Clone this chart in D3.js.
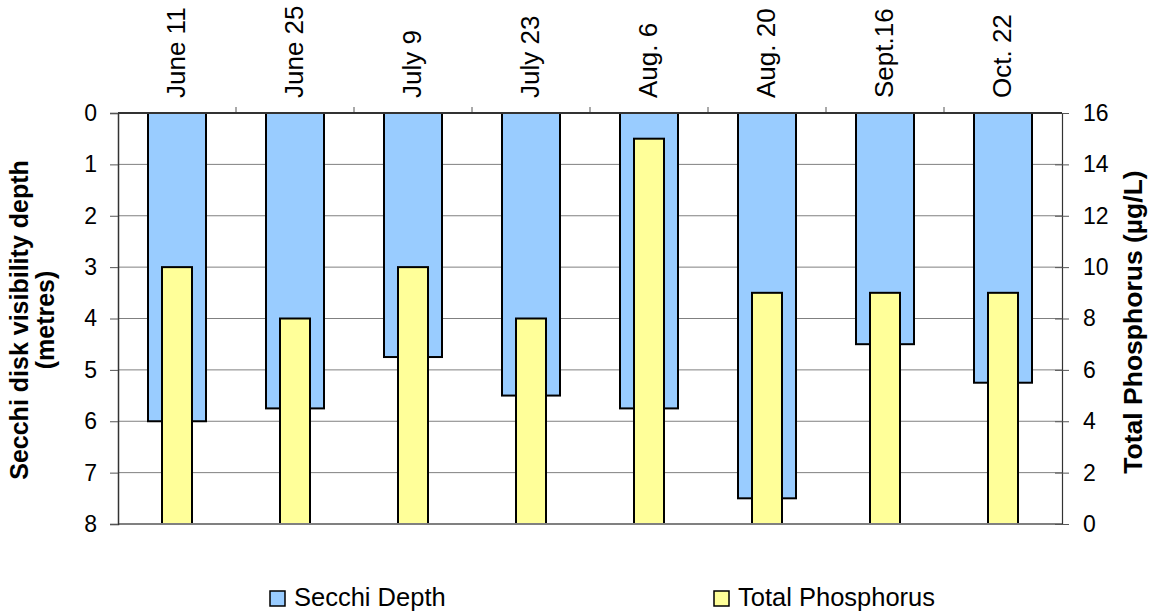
<!DOCTYPE html>
<html>
<head>
<meta charset="utf-8">
<script src="https://cdn.jsdelivr.net/npm/d3@7"></script>
<style>
  body { margin: 0; background: #fff; }
  svg { display: block; font-family: "Liberation Sans", Arial, sans-serif; }
</style>
</head>
<body>
<svg id="chart" width="1151" height="611"></svg>
<script>
// Sampling dates
const dates = ["June 11", "June 25", "July 9", "July 23", "Aug. 6", "Aug. 20", "Sept.16", "Oct. 22"];
// Secchi disk depth (metres)
const secchi = [6, 5.75, 4.75, 5.5, 5.75, 7.5, 4.5, 5.25];
// Total phosphorus (µg/L)
const phosphorus = [10, 8, 10, 8, 15, 9, 9, 9];
// Axis ticks
const depthTicks = [0, 1, 2, 3, 4, 5, 6, 7, 8];
const tpTicks = [0, 2, 4, 6, 8, 10, 12, 14, 16];

const svg = d3.select("#chart");
const plotL = 118, plotR = 1062, plotT = 113, plotB = 524;
const FONT = "Liberation Sans, Arial, sans-serif";

const x = d3.scaleBand().domain(dates).range([plotL, plotR]);
const yDepth = d3.scaleLinear().domain([0, 8]).range([plotT, plotB]);
const yTP = d3.scaleLinear().domain([0, 16]).range([plotB, plotT]);

const blueW = 58, yellowW = 30;

// Gridlines
svg.append("g").selectAll("line").data(depthTicks.slice(1, -1)).join("line")
  .attr("x1", plotL).attr("x2", plotR)
  .attr("y1", d => yDepth(d)).attr("y2", d => yDepth(d))
  .attr("stroke", "#808080").attr("stroke-width", 1);

// Secchi bars hang from the top
svg.append("g").selectAll("rect").data(dates).join("rect")
  .attr("x", d => x(d) + x.bandwidth() / 2 - blueW / 2)
  .attr("y", yDepth(0))
  .attr("width", blueW)
  .attr("height", (d, i) => yDepth(secchi[i]) - yDepth(0))
  .attr("fill", "#99ccff").attr("stroke", "#000").attr("stroke-width", 2);

// Phosphorus bars rise from the bottom
svg.append("g").selectAll("rect").data(dates).join("rect")
  .attr("x", d => x(d) + x.bandwidth() / 2 - yellowW / 2)
  .attr("y", (d, i) => yTP(phosphorus[i]))
  .attr("width", yellowW)
  .attr("height", (d, i) => yTP(0) - yTP(phosphorus[i]))
  .attr("fill", "#ffff99").attr("stroke", "#000").attr("stroke-width", 2);

// Bottom border
svg.append("line").attr("x1", plotL).attr("x2", plotR).attr("y1", plotB).attr("y2", plotB)
  .attr("stroke", "#808080").attr("stroke-width", 2);

// Left axis
const leftAxis = svg.append("g").attr("transform", `translate(${plotL},0)`)
  .call(d3.axisLeft(yDepth).tickValues(depthTicks).tickSize(8).tickPadding(13));
leftAxis.attr("font-size", 23).attr("font-family", FONT);
leftAxis.select(".domain").attr("stroke", "#333").attr("stroke-width", 1.5);
leftAxis.selectAll(".tick line").attr("stroke", "#555");
leftAxis.selectAll("text").attr("fill", "#000");

// Right axis
const rightAxis = svg.append("g").attr("transform", `translate(${plotR},0)`)
  .call(d3.axisRight(yTP).tickValues(tpTicks).tickSize(7).tickPadding(14));
rightAxis.attr("font-size", 23).attr("font-family", FONT);
rightAxis.select(".domain").attr("stroke", "#333").attr("stroke-width", 1.2);
rightAxis.selectAll(".tick line").attr("x1", -7).attr("stroke", "#555");
rightAxis.selectAll("text").attr("fill", "#000");

// Top category axis with ticks between categories
const boundaries = dates.slice(1).map(d => x(d));
svg.append("g").selectAll("line").data(boundaries).join("line")
  .attr("x1", d => d).attr("x2", d => d).attr("y1", plotT - 6).attr("y2", plotT)
  .attr("stroke", "#555").attr("stroke-width", 1);
svg.append("line").attr("x1", plotL).attr("x2", plotR).attr("y1", plotT).attr("y2", plotT)
  .attr("stroke", "#333").attr("stroke-width", 2);

// Category labels, rotated
svg.append("g").selectAll("text").data(dates).join("text")
  .attr("transform", d => `translate(${x(d) + x.bandwidth() / 2 + 8},${plotT - 15}) rotate(-90)`)
  .attr("text-anchor", "start")
  .attr("font-size", 26)
  .text(d => d);

// Axis titles
svg.append("text")
  .attr("transform", `translate(28,320) rotate(-90)`)
  .attr("text-anchor", "middle").attr("font-size", 25).attr("font-weight", "bold")
  .text("Secchi disk visibility depth");
svg.append("text")
  .attr("transform", `translate(54,320) rotate(-90)`)
  .attr("text-anchor", "middle").attr("font-size", 25).attr("font-weight", "bold")
  .text("(metres)");
svg.append("text")
  .attr("transform", `translate(1142,322) rotate(-90)`)
  .attr("text-anchor", "middle").attr("font-size", 26.5).attr("font-weight", "bold")
  .text("Total Phosphorus (µg/L)");

// Legend
const legend = [
  { label: "Secchi Depth", color: "#99ccff", x: 270 },
  { label: "Total Phosphorus", color: "#ffff99", x: 714 }
];
const lg = svg.append("g").selectAll("g").data(legend).join("g")
  .attr("transform", d => `translate(${d.x},591)`);
lg.append("rect").attr("width", 15).attr("height", 15)
  .attr("fill", d => d.color).attr("stroke", "#000").attr("stroke-width", 1.5);
lg.append("text").attr("x", 24).attr("y", 15).attr("font-size", 25.5).text(d => d.label);
</script>
</body>
</html>
